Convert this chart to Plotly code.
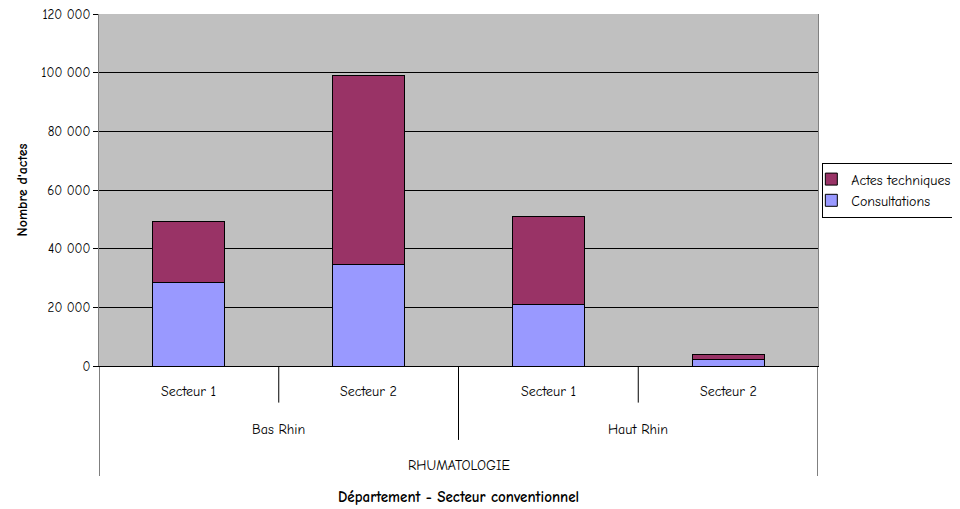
import plotly.graph_objects as go

secteurs = ["Secteur 1", "Secteur 2", "Secteur 1", "Secteur 2"]
departements = ["Bas Rhin", "Haut Rhin"]
specialite = "RHUMATOLOGIE"
consultations = [28400, 34700, 21000, 2300]
actes_techniques = [21000, 64400, 30000, 1700]
y_ticks = [0, 20000, 40000, 60000, 80000, 100000, 120000]

FONT = "Comic Sans MS, Comic Neue, DejaVu Sans, sans-serif"
xpos = list(range(len(secteurs)))

fig = go.Figure()
fig.add_trace(go.Bar(x=xpos, y=consultations, name="Consultations",
                     marker=dict(color="#9999ff", line=dict(color="black", width=1)),
                     width=0.4))
fig.add_trace(go.Bar(x=xpos, y=actes_techniques, name="Actes techniques",
                     marker=dict(color="#993366", line=dict(color="black", width=1)),
                     width=0.4))

shapes = []
for xv, yb in [(-0.5, -0.3125), (3.5, -0.3125), (0.5, -0.104), (2.5, -0.104), (1.5, -0.21)]:
    shapes.append(dict(type="line", xref="x", yref="paper", x0=xv, x1=xv, y0=0, y1=yb,
                       line=dict(color="black", width=1)))

annotations = []
lab = dict(showarrow=False, xref="x", yref="paper", xanchor="center", yanchor="middle")
for i, s in enumerate(secteurs):
    annotations.append(dict(x=xpos[i], y=-0.073, text=s,
                            font=dict(size=14, family=FONT, color="black"), **lab))
for j, d in enumerate(departements):
    annotations.append(dict(x=(xpos[2 * j] + xpos[2 * j + 1]) / 2, y=-0.179, text=d,
                            font=dict(size=14, family=FONT, color="black"), **lab))
annotations.append(dict(x=(xpos[0] + xpos[-1]) / 2, y=-0.284, text=specialite,
                        font=dict(size=14, family=FONT, color="black"), **lab))
annotations.append(dict(x=(xpos[0] + xpos[-1]) / 2, y=-0.372,
                        text="<b>Département - Secteur conventionnel</b>",
                        font=dict(size=15, family=FONT, color="black"), **lab))

fig.update_layout(
    barmode="stack",
    width=960, height=509,
    margin=dict(l=91, r=150, t=6, b=151, autoexpand=False),
    paper_bgcolor="white",
    plot_bgcolor="#c0c0c0",
    separators=", ",
    font=dict(family=FONT, size=13, color="black"),
    showlegend=True,
    legend=dict(x=1.006, y=0.5, xanchor="left", yanchor="middle", traceorder="reversed",
                bordercolor="black", borderwidth=1, bgcolor="white", indentation=-12,
                font=dict(size=14, family=FONT), itemwidth=30, tracegroupgap=0),
    shapes=shapes,
    annotations=annotations,
)
fig.update_xaxes(range=[-0.5, 3.5], showticklabels=False, showgrid=False, zeroline=False,
                 showline=True, linecolor="black", linewidth=1, ticks="", mirror=False)
fig.update_yaxes(range=[0, 120000], tickvals=y_ticks, tickformat=",d",
                 showgrid=True, gridcolor="black", gridwidth=1,
                 showline=True, linecolor="#808080", linewidth=1, mirror=True,
                 ticks="outside", ticklen=5, tickcolor="black", zeroline=False,
                 ticklabeloverflow="allow",
                 tickfont=dict(size=13, family=FONT),
                 title=dict(text="<b>Nombre d'actes</b>", font=dict(size=14, family=FONT), standoff=10))

fig.write_html("out.html")
